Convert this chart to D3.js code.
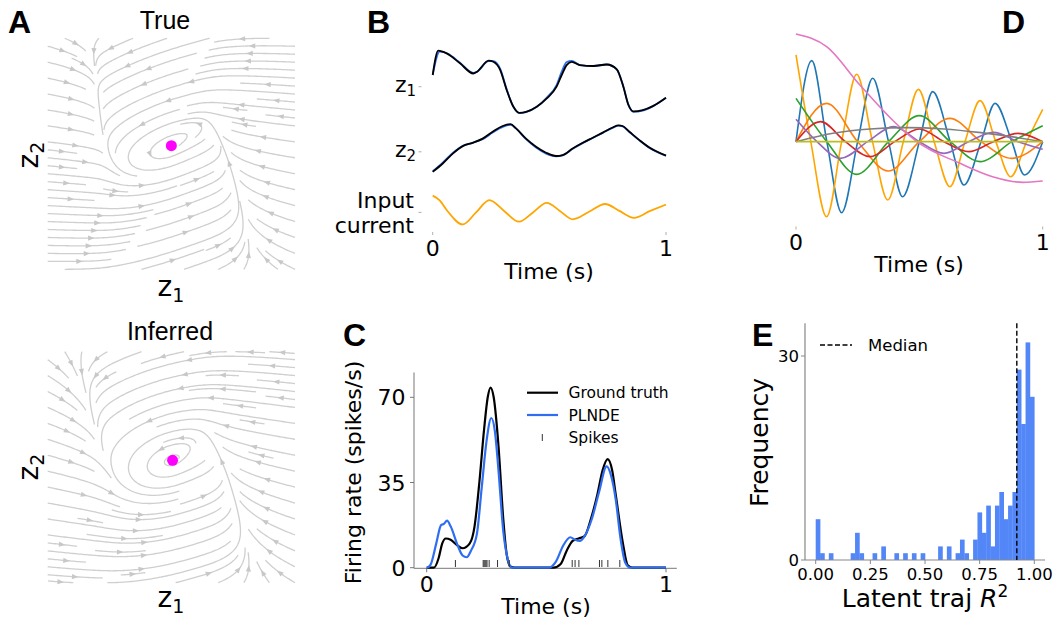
<!DOCTYPE html>
<html><head><meta charset="utf-8">
<script src="https://cdn.jsdelivr.net/npm/d3@7"></script>
<style>body{margin:0;background:#fff}</style>
</head><body>
<script>
// ---------------- DATA ----------------
// Panel A: streamplot vector-field description (normalised box coords)
const trueNullX = [-1.1, -0.72, -0.62, -0.55, -0.42, 0.0, 0.3, 0.45, 0.6, 0.7, 1.1];
const trueNullY = [4.0, 1.6, 0.8, 0.2, -0.02, 0.07, 0.22, -0.1, -0.7, -1.2, -3.0];
const trueFixed = [0.0, 0.07];
const trueSlow = [0.4, 0.86];
const infNullX = [-1.1, -0.85, -0.7, -0.58, -0.45, 0.01, 0.28, 0.45, 0.62, 0.75, 1.1];
const infNullY = [2.2, 1.35, 0.8, 0.3, 0.02, 0.06, 0.2, -0.15, -0.8, -1.3, -2.6];
const infFixed = [0.01, 0.06];
const infSlow = [0.5, 0.51];

// Panel B: latent trajectories (time s, value)
const z1True = [[0,0.39],[0.024,1.2],[0.06,1.11],[0.117,0.78],[0.174,0.44],[0.19,0.5],[0.24,0.87],[0.26,0.83],[0.289,0.56],[0.317,-0.11],[0.346,-0.67],[0.371,-0.87],[0.4,-0.84],[0.446,-0.67],[0.489,-0.39],[0.531,0],[0.553,0.39],[0.574,0.72],[0.596,0.83],[0.631,0.72],[0.689,0.69],[0.746,0.74],[0.789,0.58],[0.817,0],[0.839,-0.61],[0.86,-0.82],[0.9,-0.78],[0.946,-0.64],[1,-0.37]];
const z1Inf = [[0,0.39],[0.03,1.17],[0.065,1.1],[0.117,0.8],[0.174,0.46],[0.19,0.5],[0.24,0.85],[0.26,0.85],[0.289,0.6],[0.317,-0.08],[0.346,-0.67],[0.371,-0.88],[0.4,-0.85],[0.446,-0.67],[0.489,-0.36],[0.531,0.05],[0.553,0.5],[0.574,0.82],[0.596,0.86],[0.631,0.72],[0.689,0.69],[0.746,0.74],[0.789,0.58],[0.817,0.02],[0.839,-0.6],[0.86,-0.84],[0.9,-0.8],[0.946,-0.64],[1,-0.37]];
const z2True = [[0,-0.67],[0.043,-0.39],[0.086,-0.06],[0.129,0.19],[0.171,0.3],[0.214,0.44],[0.257,0.67],[0.3,0.86],[0.334,0.92],[0.357,0.78],[0.4,0.44],[0.443,0.17],[0.486,-0.03],[0.529,-0.14],[0.557,-0.11],[0.6,0.11],[0.643,0.3],[0.686,0.47],[0.729,0.64],[0.771,0.81],[0.797,0.88],[0.814,0.86],[0.843,0.67],[0.886,0.39],[0.929,0.14],[1,-0.13]];
const z2Inf = [[0,-0.65],[0.043,-0.36],[0.086,-0.04],[0.129,0.2],[0.171,0.3],[0.214,0.42],[0.257,0.64],[0.3,0.83],[0.334,0.9],[0.357,0.78],[0.4,0.42],[0.443,0.14],[0.486,-0.06],[0.529,-0.15],[0.557,-0.12],[0.6,0.1],[0.643,0.29],[0.686,0.46],[0.729,0.63],[0.771,0.8],[0.797,0.87],[0.814,0.85],[0.843,0.66],[0.886,0.38],[0.929,0.13],[1,-0.13]];
const inputCurrent = [[0,0.56],[0.03,0.4],[0.06,0.08],[0.129,-0.4],[0.186,0.0],[0.243,0.41],[0.306,0.05],[0.37,-0.31],[0.43,0.0],[0.489,0.32],[0.545,0.05],[0.6,-0.23],[0.67,0.02],[0.739,0.28],[0.8,0.05],[0.863,-0.18],[0.93,0.04],[1,0.26]];
const bOffsets = [0, -2.17, -4.19];
const bTickLabels = ["z1", "z2", "Input current"];

// Panel C: firing rates (time s, spikes/s)
const rateTrue = [[0,0],[0.03,0],[0.05,4],[0.065,10],[0.08,12],[0.1,11.5],[0.13,9],[0.15,8],[0.18,10],[0.2,17],[0.22,35],[0.24,57],[0.255,70],[0.267,74],[0.28,70],[0.3,50],[0.32,20],[0.335,5],[0.35,0.5],[0.37,0],[0.53,0],[0.56,1.5],[0.585,7],[0.61,11],[0.635,12],[0.66,13],[0.686,20],[0.713,30],[0.735,40],[0.756,44.6],[0.775,40],[0.79,30],[0.82,10],[0.84,1],[0.86,0],[1,0]];
const ratePLNDE = [[0,0],[0.015,1],[0.04,10],[0.06,17.5],[0.072,18],[0.085,19.3],[0.1,17],[0.13,9],[0.15,5],[0.167,4.3],[0.185,7],[0.21,14],[0.23,33],[0.25,52],[0.27,61.5],[0.285,56],[0.3,40],[0.32,15],[0.34,3],[0.355,0],[0.51,0],[0.54,2.5],[0.57,9],[0.6,12.5],[0.62,11.5],[0.64,11],[0.66,13],[0.69,20],[0.72,31],[0.752,41.6],[0.77,38],[0.79,28],[0.81,12],[0.83,2],[0.85,0],[1,0]];
const spikeTimes = [0.12, 0.236, 0.24, 0.244, 0.248, 0.252, 0.261, 0.296, 0.345, 0.608, 0.62, 0.636, 0.722, 0.732, 0.757, 0.807];
const cYTicks = [0, 35, 70];

// Panel D: basis functions (time s, value)
const dBlue = [[0,0],[0.064,2.43],[0.125,0],[0.185,-2.13],[0.25,0],[0.311,1.9],[0.375,0],[0.432,-1.65],[0.5,0],[0.554,1.5],[0.625,0],[0.681,-1.3],[0.75,0],[0.807,1.15],[0.875,0],[0.926,-1.0],[1,0]];
const dAmber = [[0,2.6],[0.06,0],[0.124,-2.25],[0.185,0],[0.246,2.02],[0.31,0],[0.372,-1.75],[0.435,0],[0.496,1.57],[0.56,0],[0.624,-1.35],[0.685,0],[0.746,1.23],[0.81,0],[0.87,-1.05],[0.935,0],[1,0.97]];
const dOrange = [[0,0],[0.124,1.15],[0.25,0],[0.374,-0.88],[0.5,0],[0.624,0.7],[0.75,0],[0.874,-0.5],[1,0]];
const dGreen = [[0,1.3],[0.125,0],[0.246,-0.98],[0.375,0],[0.5,0.78],[0.625,0],[0.746,-0.6],[0.875,0],[1,0.48]];
const dRed = [[0,0],[0.1,0.6],[0.2,0],[0.3,-0.45],[0.4,0],[0.5,0.38],[0.6,0],[0.7,-0.3],[0.8,0],[0.9,0.25],[1,0]];
const dPurple = [[0,0.67],[0.085,0],[0.18,-0.5],[0.29,0],[0.395,0.45],[0.5,0],[0.6,-0.35],[0.7,0],[0.8,0.28],[0.9,0],[1,-0.23]];
const dPink = [[0,3.23],[0.124,2.85],[0.259,1.7],[0.395,0.62],[0.49,0],[0.665,-0.65],[0.797,-1.05],[0.92,-1.22],[1,-1.18]];
const dGray = [[0,0],[0.15,0.25],[0.3,0.38],[0.45,0.42],[0.6,0.38],[0.75,0.27],[0.9,0.12],[1,0]];
const dOlive = [[0,0],[1,0]];

// Panel E: histogram of latent trajectory R^2 (50 bins on [0,1])
const histCounts = [6,1,0,1,0,0,0,0,1,4,1,0,0,1,0,2,0,0,1,0,1,0,1,0,1,0,0,0,2,0,2,0,1,3,1,0,3,7,4,8,2,8,10,6,8,10,28,20,32,24];
const medianR2 = 0.92;
const eXTicks = [0, 0.25, 0.5, 0.75, 1.0];
const eYTicks = [0, 30];

// ---------------- DRAWING ----------------
const DJ = '"DejaVu Sans", sans-serif';
const AR = '"Liberation Sans", Arial, sans-serif';
const svg = d3.select("body").append("svg").attr("width", 1055).attr("height", 619);

function txt(x, y, s, size, opts = {}) {
  const t = svg.append("text").attr("x", x).attr("y", y).text(s)
    .attr("font-family", opts.family || DJ).attr("font-size", size)
    .attr("text-anchor", opts.anchor || "start").attr("fill", "#000");
  if (opts.weight) t.attr("font-weight", opts.weight);
  if (opts.rotate) t.attr("transform", `rotate(${opts.rotate},${x},${y})`);
  return t;
}
function subLabel(x, y, main, sub, size, subSize, opts = {}) {
  const t = svg.append("text").attr("x", x).attr("y", y)
    .attr("font-family", DJ).attr("font-size", size).attr("text-anchor", opts.anchor || "middle");
  t.append("tspan").text(main);
  t.append("tspan").attr("font-size", subSize).attr("dy", size * 0.2).text(sub);
  if (opts.rotate) t.attr("transform", `rotate(${opts.rotate},${x},${y})`);
  return t;
}

// Panel letters
txt(8, 33, "A", 32, {family: AR, weight: "bold"});
txt(367, 33, "B", 32, {family: AR, weight: "bold"});
txt(343, 346, "C", 32, {family: AR, weight: "bold"});
txt(1002, 33, "D", 32, {family: AR, weight: "bold"});
txt(752, 346, "E", 32, {family: AR, weight: "bold"});

// ---------- Panel A ----------
function makeField(kx, ky, fp, slow) {
  const n = kx.length;
  const m = kx.map((x, i) => i === 0 ? (ky[1]-ky[0])/(kx[1]-kx[0]) :
    i === n-1 ? (ky[n-1]-ky[n-2])/(kx[n-1]-kx[n-2]) : (ky[i+1]-ky[i-1])/(kx[i+1]-kx[i-1]));
  function g(X) {
    let i = d3.bisectRight(kx, X) - 1; i = Math.max(0, Math.min(n-2, i));
    const h = kx[i+1]-kx[i], t = (X-kx[i])/h, t2 = t*t, t3 = t2*t;
    return (2*t3-3*t2+1)*ky[i] + (t3-2*t2+t)*h*m[i] + (-2*t3+3*t2)*ky[i+1] + (t3-t2)*h*m[i+1];
  }
  return (X, Y) => [g(X) - Y, slow[0]*((X-fp[0]) - slow[1]*(Y-fp[1]))];
}
function* startPoints(N) {
  let xfirst = 0, yfirst = 1, xlast = N-1, ylast = N-1, x = 0, y = 0, dir = "right";
  for (let k = 0; k < N*N; k++) {
    yield [x, y];
    if (dir === "right") { x++; if (x >= xlast) { xlast--; dir = "up"; } }
    else if (dir === "up") { y++; if (y >= ylast) { ylast--; dir = "left"; } }
    else if (dir === "left") { x--; if (x <= xfirst) { xfirst++; dir = "down"; } }
    else { y--; if (y <= yfirst) { yfirst++; dir = "right"; } }
  }
}
function streamlines(field) {
  const N = 30, mask = new Uint8Array(N*N);
  const cell = (X, Y) => Math.round((Y+1)/2*(N-1))*N + Math.round((X+1)/2*(N-1));
  const dirAt = (X, Y) => { const f = field(X, Y); const s = Math.hypot(f[0], f[1]); return s < 1e-9 ? null : [f[0]/s, f[1]/s]; };
  const ds = 0.005, maxLen = 8, minLen = 0.2, lines = [];
  function integ(x0, y0, sg, cells) {
    let x = x0, y = y0, len = 0, cur = cell(x, y); const pts = [];
    while (len < maxLen) {
      const k1 = dirAt(x, y); if (!k1) break;
      const k2 = dirAt(x + 0.5*ds*sg*k1[0], y + 0.5*ds*sg*k1[1]); if (!k2) break;
      if (k1[0]*k2[0] + k1[1]*k2[1] < 0) break;
      const nx = x + ds*sg*k2[0], ny = y + ds*sg*k2[1];
      if (nx < -1 || nx > 1 || ny < -1 || ny > 1) break;
      const c = cell(nx, ny);
      if (c !== cur) { if (mask[c]) break; mask[c] = 1; cells.push(c); cur = c; }
      x = nx; y = ny; len += ds; pts.push([x, y]);
    }
    return {pts, len};
  }
  for (const [i, j] of startPoints(N)) {
    const c = j*N + i; if (mask[c]) continue;
    const X = -1 + 2*i/(N-1), Y = -1 + 2*j/(N-1);
    mask[c] = 1; const cells = [c];
    const b = integ(X, Y, -1, cells), f = integ(X, Y, 1, cells);
    if (b.len + f.len < minLen) { cells.forEach(k => mask[k] = 0); mask[c] = 0; continue; }
    lines.push([...b.pts.reverse(), [X, Y], ...f.pts]);
  }
  return lines;
}
function drawStream(kx, ky, fp, slow, x0, x1, y0, y1) {
  const sx = d3.scaleLinear([-1, 1], [x0, x1]), sy = d3.scaleLinear([-1, 1], [y1, y0]);
  const lines = streamlines(makeField(kx, ky, fp, slow));
  const g = svg.append("g");
  const line = d3.line().x(d => sx(d[0])).y(d => sy(d[1]));
  lines.forEach(L => {
    const thin = L.filter((p, k) => k % 3 === 0 || k === L.length-1);
    g.append("path").attr("d", line(thin)).attr("fill", "none").attr("stroke", "#cfcfcf").attr("stroke-width", 1.3);
    const n = Math.floor(L.length/2);
    if (n + 1 < L.length) {
      const ax = sx(L[n][0]), ay = sy(L[n][1]);
      let dx = sx(L[n+1][0]) - ax, dy = sy(L[n+1][1]) - ay; const s = Math.hypot(dx, dy) || 1; dx /= s; dy /= s;
      const tipx = ax + dx*3, tipy = ay + dy*3, bx = tipx - dx*6.5, by = tipy - dy*6.5;
      g.append("path").attr("d", `M${tipx},${tipy}L${bx - dy*2.6},${by + dx*2.6}L${bx + dy*2.6},${by - dx*2.6}Z`).attr("fill", "#c8c8c8");
    }
  });
  svg.append("circle").attr("cx", sx(fp[0])).attr("cy", sy(fp[1])).attr("r", 5.5).attr("fill", "#ff00ff");
}
drawStream(trueNullX, trueNullY, trueFixed, trueSlow, 47.7, 295, 38.3, 269.3);
drawStream(infNullX, infNullY, infFixed, infSlow, 47.7, 295, 351.7, 582.7);
txt(165, 28.5, "True", 25, {family: AR, anchor: "middle"});
txt(170, 340, "Inferred", 25, {family: AR, anchor: "middle"});
subLabel(171, 296, "z", "1", 28, 19);
subLabel(171, 607, "z", "1", 28, 19);
subLabel(38, 155, "z", "2", 28, 19, {rotate: -90});
subLabel(38, 467, "z", "2", 28, 19, {rotate: -90});

// ---------- Panel B ----------
{
  const x = d3.scaleLinear([0, 1], [432.7, 666]);
  const y = d3.scaleLinear([0, 1], [86.7, 56.7]);
  const line = off => d3.line().curve(d3.curveMonotoneX).x(d => x(d[0])).y(d => y(d[1] + off));
  const series = [[z1Inf, 0, "#2f6ef0"], [z1True, 0, "#000"], [z2Inf, 1, "#2f6ef0"], [z2True, 1, "#000"], [inputCurrent, 2, "#ffa500"]];
  series.forEach(([d, k, col]) => svg.append("path").attr("d", line(bOffsets[k])(d)).attr("fill", "none").attr("stroke", col).attr("stroke-width", 1.8));
  bOffsets.forEach((o, k) => {
    svg.append("line").attr("x1", 418.5).attr("x2", 421.5).attr("y1", y(o)).attr("y2", y(o)).attr("stroke", "#999").attr("stroke-width", 0.8);
  });
  subLabel(416, y(bOffsets[0]) + 5, "z", "1", 22, 15, {anchor: "end"});
  subLabel(416, y(bOffsets[1]) + 5, "z", "2", 22, 15, {anchor: "end"});
  const parts = bTickLabels[2].split(" ");
  txt(414, 208, parts[0], 22, {anchor: "end"});
  txt(414, 233, parts[1], 22, {anchor: "end"});
  [0, 1].forEach(v => {
    svg.append("line").attr("x1", x(v)).attr("x2", x(v)).attr("y1", 232).attr("y2", 235).attr("stroke", "#999").attr("stroke-width", 0.8);
    txt(x(v), 256, String(v), 22, {anchor: "middle"});
  });
  txt(549, 279, "Time (s)", 22, {anchor: "middle"});
}

// ---------- Panel C ----------
{
  const x = d3.scaleLinear([0, 1], [426.7, 666]);
  const y = d3.scaleLinear([0, 70], [567.7, 397.3]);
  const ax = "#777";
  svg.append("line").attr("x1", 414).attr("x2", 414).attr("y1", y(80.2)).attr("y2", 568.3).attr("stroke", ax).attr("stroke-width", 1);
  svg.append("line").attr("x1", x(-0.053)).attr("x2", x(1.045)).attr("y1", 568.3).attr("y2", 568.3).attr("stroke", ax).attr("stroke-width", 1);
  cYTicks.forEach(v => {
    svg.append("line").attr("x1", 410).attr("x2", 414).attr("y1", y(v)).attr("y2", y(v)).attr("stroke", ax);
    txt(405.5, y(v) + 8, String(v), 22, {anchor: "end"});
  });
  [0, 1].forEach(v => {
    svg.append("line").attr("x1", x(v)).attr("x2", x(v)).attr("y1", 568.3).attr("y2", 572.3).attr("stroke", ax);
    txt(x(v), 591.5, String(v), 22, {anchor: "middle"});
  });
  const line = d3.line().curve(d3.curveMonotoneX).x(d => x(d[0])).y(d => y(d[1]));
  svg.append("path").attr("d", line(rateTrue)).attr("fill", "none").attr("stroke", "#000").attr("stroke-width", 2.2);
  svg.append("path").attr("d", line(ratePLNDE)).attr("fill", "none").attr("stroke", "#2f6ef0").attr("stroke-width", 2.2);
  spikeTimes.forEach(t => svg.append("line").attr("x1", x(t)).attr("x2", x(t)).attr("y1", 560).attr("y2", 567).attr("stroke", "#333").attr("stroke-width", 1));
  txt(546, 614, "Time (s)", 22, {anchor: "middle"});
  txt(361, 472.5, "Firing rate (spikes/s)", 22, {anchor: "middle", rotate: -90});
  // legend
  svg.append("line").attr("x1", 527).attr("x2", 558).attr("y1", 392.7).attr("y2", 392.7).attr("stroke", "#000").attr("stroke-width", 2.2);
  txt(568.5, 398.3, "Ground truth", 15.5);
  svg.append("line").attr("x1", 527).attr("x2", 558).attr("y1", 415).attr("y2", 415).attr("stroke", "#2f6ef0").attr("stroke-width", 2.2);
  txt(568.5, 420.6, "PLNDE", 15.5);
  svg.append("line").attr("x1", 542.3).attr("x2", 542.3).attr("y1", 434).attr("y2", 441).attr("stroke", "#333").attr("stroke-width", 1);
  txt(568.5, 443, "Spikes", 15.5);
}

// ---------- Panel D ----------
{
  const x = d3.scaleLinear([0, 1], [796, 1042.7]);
  const y = d3.scaleLinear([0, 1], [141.67, 108.33]);
  const line = d3.line().curve(d3.curveMonotoneX).x(d => x(d[0])).y(d => y(d[1]));
  const series = [[dBlue, "#1f77b4"], [dAmber, "#ffa500"], [dOrange, "#ff7f0e"], [dGreen, "#2ca02c"], [dRed, "#d62728"], [dPurple, "#9467bd"], [dPink, "#e377c2"], [dGray, "#7f7f7f"], [dOlive, "#bcbd22"]];
  series.forEach(([d, c]) => svg.append("path").attr("d", line(d)).attr("fill", "none").attr("stroke", c).attr("stroke-width", 1.6));
  [0, 1].forEach(v => {
    svg.append("line").attr("x1", x(v)).attr("x2", x(v)).attr("y1", 226.5).attr("y2", 229.5).attr("stroke", "#999").attr("stroke-width", 0.8);
    txt(x(v), 250, String(v), 22, {anchor: "middle"});
  });
  txt(919, 271.5, "Time (s)", 22, {anchor: "middle"});
}

// ---------- Panel E ----------
{
  const x = d3.scaleLinear([0, 1], [815.7, 1034.3]);
  const y = d3.scaleLinear([0, 30], [560, 356]);
  const w = 1 / histCounts.length;
  svg.append("g").selectAll("rect").data(histCounts).join("rect")
    .attr("x", (d, i) => x(i*w)).attr("width", (d, i) => x((i+1)*w) - x(i*w) + 0.3)
    .attr("y", d => y(d)).attr("height", d => y(0) - y(d)).attr("fill", "#5387f8");
  const ax = "#888";
  svg.append("line").attr("x1", x(-0.049)).attr("x2", x(-0.049)).attr("y1", y(34.8)).attr("y2", 560).attr("stroke", ax).attr("stroke-width", 1.2);
  svg.append("line").attr("x1", x(-0.049)).attr("x2", x(1.049)).attr("y1", 560).attr("y2", 560).attr("stroke", ax).attr("stroke-width", 1.2);
  eYTicks.forEach(v => {
    svg.append("line").attr("x1", x(-0.049) - 4).attr("x2", x(-0.049)).attr("y1", y(v)).attr("y2", y(v)).attr("stroke", ax);
    txt(x(-0.049) - 6, y(v) + 6, String(v), 16.5, {anchor: "end"});
  });
  eXTicks.forEach(v => {
    svg.append("line").attr("x1", x(v)).attr("x2", x(v)).attr("y1", 560).attr("y2", 564).attr("stroke", ax);
    txt(x(v), 580, v.toFixed(2), 16.5, {anchor: "middle"});
  });
  svg.append("line").attr("x1", x(medianR2)).attr("x2", x(medianR2)).attr("y1", y(34.8)).attr("y2", 560)
    .attr("stroke", "#000").attr("stroke-width", 1.4).attr("stroke-dasharray", "5,2.5");
  svg.append("line").attr("x1", 820).attr("x2", 852).attr("y1", 345).attr("y2", 345)
    .attr("stroke", "#000").attr("stroke-width", 1.4).attr("stroke-dasharray", "5,2.5");
  txt(868, 351, "Median", 16.5);
  const t = svg.append("text").attr("x", 925).attr("y", 607).attr("text-anchor", "middle").attr("font-family", DJ).attr("font-size", 25);
  t.append("tspan").text("Latent traj ");
  t.append("tspan").attr("font-style", "italic").text("R");
  t.append("tspan").attr("font-size", 17).attr("dy", -10).text("2");
  txt(768, 442.5, "Frequency", 25, {anchor: "middle", rotate: -90});
}
</script>
</body></html>
